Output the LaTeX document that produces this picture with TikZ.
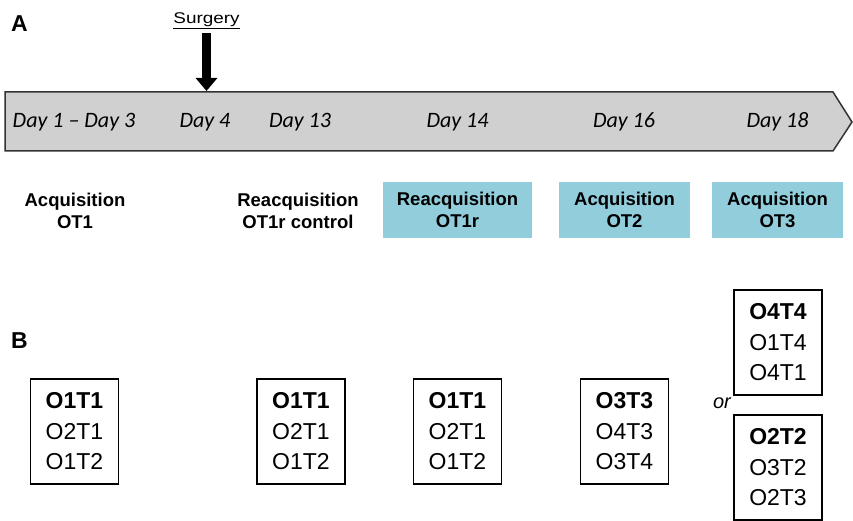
\documentclass[tikz,border=0pt]{standalone}
\usepackage{fontspec}
\setmainfont{Liberation Sans}
\newfontfamily\dayfont[Ligatures=TeX]{Carlito}
\definecolor{timelinecol}{HTML}{D0D0D0}
\definecolor{edgecol}{HTML}{333333}
\definecolor{sessioncol}{HTML}{92CDDC}
\usetikzlibrary{arrows.meta}

\tikzset{
  panellabel/.style={font=\fontsize{23}{23}\selectfont\bfseries, anchor=base west, inner sep=0pt},
  daylabel/.style={font=\dayfont\itshape\fontsize{22}{22}\selectfont, anchor=base, inner sep=0pt},
  sessionlabel/.style={font=\fontsize{18.5}{21.5}\selectfont\bfseries, align=center, inner sep=0pt},
  sessionbox/.style={sessionlabel, fill=sessioncol, minimum height=56pt},
  trialbox/.style={draw=black, line width=1.8pt, font=\fontsize{23}{30.5}\selectfont,
    align=center, minimum width=88pt, minimum height=105pt, inner sep=0pt},
  surgarrow/.style={line width=9.5pt, -{Triangle[width=21pt, length=13pt]}}
}

\begin{document}
\begin{tikzpicture}[x=1pt, y=-1pt]
\useasboundingbox (0,0) rectangle (853,521);

% === PANEL A: timeline ===
\node[panellabel] (labA) at (11,32) {A};

\draw[edgecol, line width=1.5pt, fill=timelinecol]
  (5,92) -- (833,92) -- (852,122) -- (833,151) -- (5,151) -- cycle;
\coordinate (cut) at (206.5,91);

\node[anchor=base, inner sep=0pt, font=\fontsize{15.5}{15.5}\selectfont\addfontfeature{FakeStretch=1.22}]
  (surgery) at (206.5,24) {\underline{Surgery}};
\draw[surgarrow, shorten <=4pt] (surgery.south) -- (cut);

\node[daylabel] (d1)  at (74,128)    {Day 1 -- Day 3};
\node[daylabel] (d4)  at (205,128)   {Day 4};
\node[daylabel] (d13) at (300,128)   {Day 13};
\node[daylabel] (d14) at (457.5,128) {Day 14};
\node[daylabel] (d16) at (624,128)   {Day 16};
\node[daylabel] (d18) at (777.5,128) {Day 18};

\node[sessionlabel] (acqOT1) at (75,211) {Acquisition\\OT1};
\node[sessionlabel] (reacqctl) at (298,211) {Reacquisition\\OT1r control};
\node[sessionbox, minimum width=149pt] (reacq) at (457.5,210) {Reacquisition\\OT1r};
\node[sessionbox, minimum width=131pt] (acqOT2) at (624.5,210) {Acquisition\\OT2};
\node[sessionbox, minimum width=131pt] (acqOT3) at (777.5,210) {Acquisition\\OT3};

% === PANEL B: object-trial sets ===
\node[panellabel] (labB) at (11,348) {B};

\node[trialbox] (set1) at (74.5,431.5) {\textbf{O1T1}\\O2T1\\O1T2};
\node[trialbox] (set2) at (301,431.5)  {\textbf{O1T1}\\O2T1\\O1T2};
\node[trialbox] (set3) at (457.5,431.5) {\textbf{O1T1}\\O2T1\\O1T2};
\node[trialbox] (set4) at (624.5,431.5) {\textbf{O3T3}\\O4T3\\O3T4};
\node[trialbox] (set5) at (778,342.5)  {\textbf{O4T4}\\O1T4\\O4T1};
\node[trialbox] (set6) at (778,467.5)  {\textbf{O2T2}\\O3T2\\O2T3};

\node[anchor=base, inner sep=0pt, font=\fontsize{20}{20}\selectfont\itshape] (or) at (722,408) {or};

\end{tikzpicture}
\end{document}
